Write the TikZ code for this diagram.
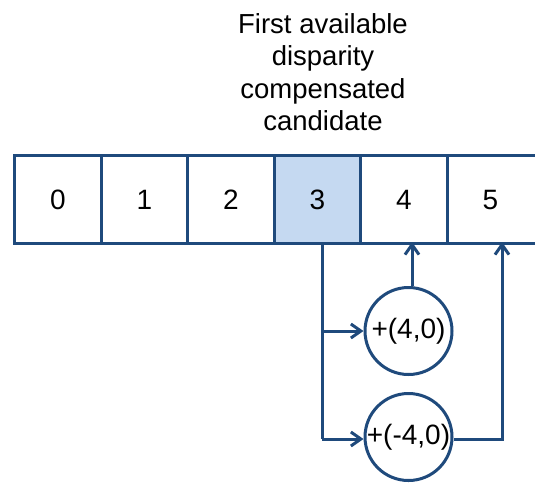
\documentclass[tikz,border=0pt]{standalone}
\usepackage{fontspec}
\setmainfont{Liberation Sans}
\usetikzlibrary{arrows.meta}
\definecolor{dblue}{HTML}{1F4A7C}
\definecolor{lblue}{HTML}{C5D9F1}
\begin{document}
\begin{tikzpicture}[x=1pt,y=-1pt,
  cell/.style={draw=dblue,line width=3.3pt,minimum width=86.5pt,minimum height=88pt,inner sep=0pt,font=\fontsize{28}{30}\selectfont,anchor=north west},
  op/.style={circle,draw=dblue,line width=3pt,minimum size=87pt,inner sep=0pt,font=\fontsize{28}{30}\selectfont},
  conn/.style={draw=dblue,line width=3pt,-{Straight Barb[length=10pt,width=14pt,line width=3pt]}},
  plain/.style={draw=dblue,line width=3pt}]
\useasboundingbox (0,0) rectangle (535,483);
\node[align=center,font=\fontsize{27.5}{32.5}\selectfont] (title) at (323,72) {First available\\disparity\\compensated\\candidate};
\node[cell] (c0) at (13,154) {0};
\node[cell] (c1) at (99.5,154) {1};
\node[cell] (c2) at (186,154) {2};
\node[cell,fill=lblue] (c3) at (272.5,154) {3};
\node[cell] (c4) at (359,154) {4};
\node[cell,minimum width=95pt] (c5) at (445.5,154) {\hspace*{-8.5pt}5};
\node[op] (p4) at (408.5,331) {+(4,0)};
\node[op] (m4) at (408.5,437) {+(-4,0)};
\coordinate (s) at (322,242);
\coordinate (j) at (322,439);
\draw[plain] (c3.south -| s) -- (j);
\draw[conn] (322,331) -- (p4.west);
\draw[conn] (j) -- (m4.west |- j);
\draw[conn] (p4.north -| 412,0) -- (412,242);
\draw[conn] (m4.east |- j) -- (502,439) -- (502,242);
\end{tikzpicture}
\end{document}
